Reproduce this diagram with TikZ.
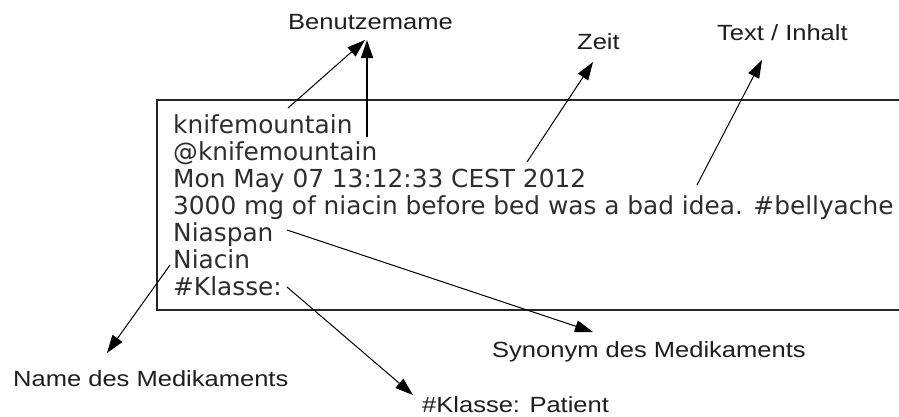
\documentclass[tikz,border=0pt]{standalone}
\usepackage{fontspec}
\setmainfont{Liberation Sans}
\newfontfamily\boxfont{DejaVu Sans}
\usetikzlibrary{arrows.meta}
\definecolor{txtgray}{HTML}{2E2E2E}
\definecolor{lblgray}{HTML}{1E1E1E}
\tikzset{
  arr/.style={-{Triangle[length=18pt,width=12pt]}, line width=1pt, black},
  boxline/.style={anchor=base west, inner sep=0pt, text=txtgray, font=\boxfont\fontsize{24.8}{27}\selectfont},
  lbl/.style={anchor=base west, inner sep=0pt, text=lblgray, font=\fontsize{22}{24}\selectfont},
  frame/.style={line width=1.2pt, draw=black!85}
}
\newcommand{\wide}[1]{\scalebox{1.16}[1]{#1}}
\begin{document}
\begin{tikzpicture}[x=1pt,y=-1pt]
\useasboundingbox (0,0) rectangle (899,416);
\fill[white] (0,0) rectangle (899,416);
% frame (open to the right)
\draw[frame] (899,100) -- (157,100) -- (157,310) -- (899,310);
% tweet lines
\node[boxline] (l1) at (173,133) {knifemountain};
\node[boxline] (l2) at (173,160) {@knifemountain};
\node[boxline] (l3) at (173,187) {Mon May 07 13:12:33 CEST 2012};
\node[boxline] (l4) at (173,214) {3000 mg of niacin before bed was a bad idea. \#bellyache};
\node[boxline] (l5) at (173,241) {Niaspan};
\node[boxline] (l6) at (173,268) {Niacin};
\node[boxline] (l7) at (173,295) {\#Klasse:};
% labels
\node[lbl] (benutz) at (288,29) {\wide{Benutzemame}};
\node[lbl] (zeit) at (577,49) {\wide{Zeit}};
\node[lbl] (inhalt) at (717,40) {\wide{Text / Inhalt}};
\node[lbl] (name) at (13,386) {\wide{Name des Medikaments}};
\node[lbl] (syn) at (492,357) {\wide{Synonym des Medikaments}};
\node[lbl] (klasse) at (422,412) {\wide{\#Klasse: Patient}};
% connector ends
\coordinate (s1) at (288,108);
\coordinate (s2) at (367,137);
\coordinate (s3) at (527,162);
\coordinate (s4) at (697,185);
\coordinate (s5) at (287,230);
\coordinate (s6) at (170,265);
\coordinate (s7) at (287,287);
\coordinate (t1) at (365,40);
\coordinate (t2) at (367,40);
\coordinate (t3) at (593,62);
\coordinate (t4) at (762,60);
\coordinate (t5) at (593,332);
\coordinate (t6) at (107,353);
\coordinate (t7) at (413,395);
% connectors
\draw[arr] (s1) -- (t1);
\draw[arr, line width=1.5pt] (s2) -- (t2);
\draw[arr] (s3) -- (t3);
\draw[arr] (s4) -- (t4);
\draw[arr] (s5) -- (t5);
\draw[arr] (s6) -- (t6);
\draw[arr] (s7) -- (t7);
\end{tikzpicture}
\end{document}
